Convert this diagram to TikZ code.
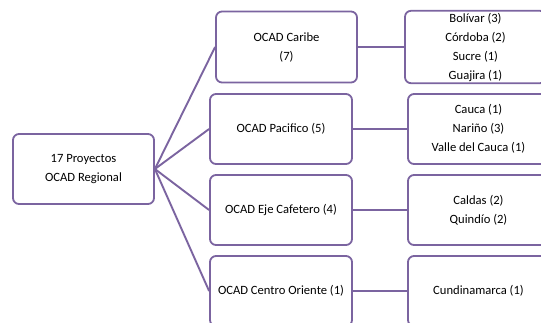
\documentclass[tikz,border=0pt]{standalone}
\usepackage{fontspec}
\setmainfont{Carlito}
\usepackage{xcolor}
\usetikzlibrary{positioning}
\definecolor{ocadline}{HTML}{7B64A0}
\tikzset{
  ocadbox/.style={draw=ocadline,line width=1.8pt,rounded corners=6pt,fill=white,
    minimum width=141pt,minimum height=70pt,align=center,inner sep=2pt,
    font=\fontsize{12.6pt}{19pt}\selectfont},
  ocadlink/.style={draw=ocadline,line width=1.9pt}
}
\begin{document}
\begin{tikzpicture}[x=1pt,y=-1pt]
  \useasboundingbox (0,0) rectangle (541,322);
  \clip (0,0) rectangle (541,322);
  % raiz
  \node[ocadbox] (root) at (83.5,169) {17 Proyectos\\OCAD Regional};
  % regiones
  \node[ocadbox,minimum height=71pt] (caribe) at (286.5,47) {OCAD Caribe\\(7)};
  \node[ocadbox,minimum width=142pt] (pacifico) at (281,129) {OCAD Pacifico (5)};
  \node[ocadbox,minimum width=142pt] (eje) at (281,210) {OCAD Eje Cafetero (4)};
  \node[ocadbox,minimum width=142pt] (centro) at (281,291) {OCAD Centro Oriente (1)};
  % departamentos
  \node[ocadbox,minimum height=71pt] (dcaribe) at (475.5,47) {Bolívar (3)\\Córdoba (2)\\Sucre (1)\\Guajira (1)};
  \node[ocadbox] (dpacifico) at (478.5,129) {Cauca (1)\\Nariño (3)\\Valle del Cauca (1)};
  \node[ocadbox] (deje) at (478.5,210) {Caldas (2)\\Quindío (2)};
  \node[ocadbox] (dcentro) at (478.5,291) {Cundinamarca (1)};
  \foreach \r in {caribe,pacifico,eje,centro} {
    \draw[ocadlink] (root.east) -- (\r.west);
    \draw[ocadlink] (\r.east) -- (d\r.west);
  }
\end{tikzpicture}
\end{document}
